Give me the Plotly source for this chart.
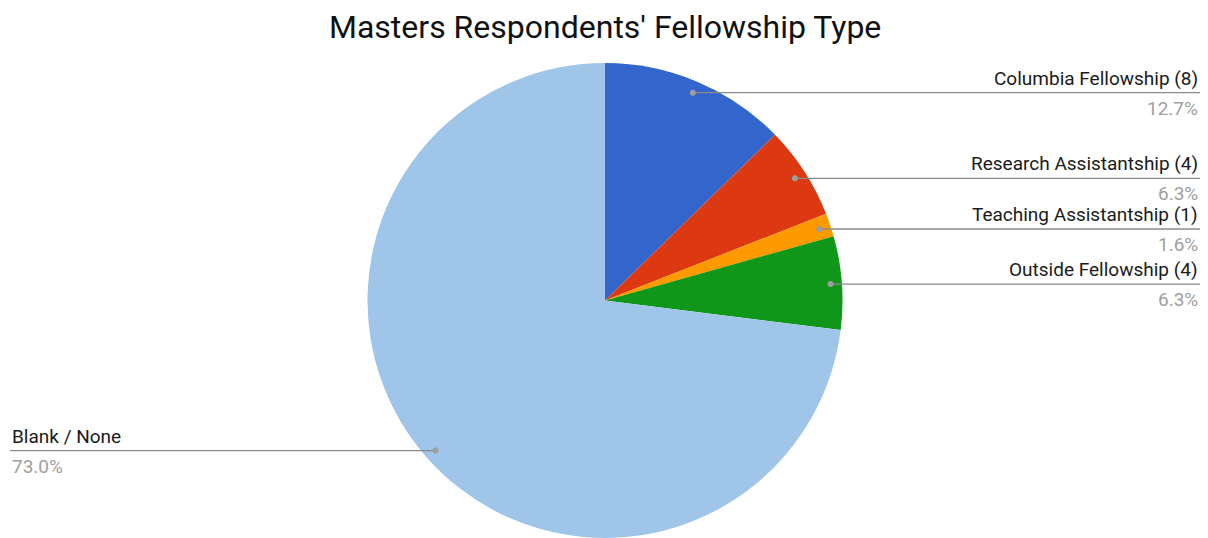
import math
import plotly.graph_objects as go

# ---- data ----
categories = ["Columbia Fellowship", "Research Assistantship", "Teaching Assistantship",
              "Outside Fellowship", "Blank / None"]
counts = [8, 4, 1, 4, 46]
colors = ["#3366cc", "#dc3912", "#ff9900", "#109618", "#9fc5e8"]
show_count = [True, True, True, True, False]
label_side = ["right", "right", "right", "right", "left"]
title_text = "Masters Respondents' Fellowship Type"

W, H = 1208, 538
CX, CY, R = 605, 301, 238  # pie geometry in pixels

total = sum(counts)
fracs = [c / total for c in counts]

fig = go.Figure()

dom_x = [(CX - R) / W, (CX + R) / W]
dom_y = [max(0, (H - CY - R) / H), (H - CY + R) / H]
fig.add_trace(go.Pie(
    labels=categories, values=counts, sort=False, direction="clockwise", rotation=0,
    marker=dict(colors=colors, line=dict(width=0)),
    textinfo="none", hoverinfo="label+value+percent", showlegend=False,
    domain=dict(x=dom_x, y=dom_y),
))

# invisible trace to create the overlay axes
fig.add_trace(go.Scatter(x=[0, W], y=[0, H], mode="markers", marker=dict(opacity=0),
                         hoverinfo="skip", showlegend=False))

cum = 0.0
annotations = []
shapes = []
for cat, c, f, side, sc in zip(categories, counts, fracs, label_side, show_count):
    mid = (cum + f / 2) * 2 * math.pi
    cum += f
    dx = CX + 0.95 * R * math.sin(mid)
    dy = CY - 0.95 * R * math.cos(mid)
    xend = 1200 if side == "right" else 10
    shapes.append(dict(type="line", xref="x", yref="y", x0=dx, y0=dy, x1=xend, y1=dy,
                       line=dict(color="#8a8a8a", width=1.3), layer="above"))
    shapes.append(dict(type="circle", xref="x", yref="y", x0=dx - 3, y0=dy - 3,
                       x1=dx + 3, y1=dy + 3, fillcolor="#9e9e9e",
                       line=dict(width=0), layer="above"))
    name = f"{cat} ({c})" if sc else cat
    anchor = "right" if side == "right" else "left"
    annotations.append(dict(
        x=xend, y=dy - 1, xref="x", yref="y", text=name, showarrow=False,
        xanchor=anchor, yanchor="bottom", align=anchor,
        font=dict(family="Roboto", size=19, color="#1a1a1a"),
    ))
    annotations.append(dict(
        x=xend, y=dy + 2, xref="x", yref="y", text=f"{f * 100:.1f}%", showarrow=False,
        xanchor=anchor, yanchor="top", align=anchor,
        font=dict(family="Roboto", size=19, color="#a0a0a0"),
    ))

annotations.append(dict(
    x=605 / W, y=1 - 27 / H, xref="paper", yref="paper", text=title_text, showarrow=False,
    xanchor="center", yanchor="middle",
    font=dict(family="Roboto", size=32, color="#111111"),
))

fig.update_layout(
    width=W, height=H, margin=dict(l=0, r=0, t=0, b=0),
    paper_bgcolor="white", plot_bgcolor="rgba(0,0,0,0)",
    xaxis=dict(range=[0, W], visible=False, domain=[0, 1], fixedrange=True),
    yaxis=dict(range=[H, 0], visible=False, domain=[0, 1], fixedrange=True),
    annotations=annotations, shapes=shapes,
)

fig.write_html("out.html", config={"displayModeBar": False},
               post_script="document.body.style.margin='0';")
